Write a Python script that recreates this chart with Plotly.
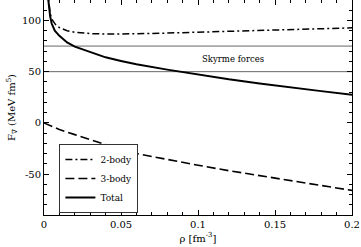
import plotly.graph_objects as go

# density rho [fm^-3]
rho_2b = [0.0022, 0.003, 0.004, 0.005, 0.0075, 0.01, 0.015, 0.02, 0.03, 0.04, 0.05,
          0.06, 0.08, 0.1, 0.12, 0.14, 0.16, 0.18, 0.2]
two_body = [130, 116, 107, 101.5, 96, 93, 90, 88.5, 87.2, 86.8, 86.8,
            87.0, 87.7, 88.6, 89.5, 90.3, 91.2, 92.0, 92.8]

rho_3b = [0.0, 0.005, 0.01, 0.02, 0.03, 0.04, 0.05, 0.06, 0.08, 0.1,
          0.12, 0.14, 0.16, 0.18, 0.2]
three_body = [0.0, -3.4, -6.5, -11.5, -16.5, -21.3, -26.0, -30.0, -36.0, -41.4,
              -46.7, -51.6, -56.4, -61.2, -66.0]

rho_tot = [0.0022, 0.003, 0.004, 0.005, 0.007, 0.01, 0.015, 0.02, 0.03, 0.04, 0.05,
           0.06, 0.08, 0.1, 0.12, 0.14, 0.16, 0.18, 0.2]
total = [128, 114, 104, 97, 90, 85, 78.5, 74.5, 69, 64, 60.5,
         57.3, 52, 47, 42.5, 38.5, 34.5, 31, 27.5]

skyrme_levels = [75, 50]
skyrme_label = "Skyrme forces"
skyrme_label_pos = (0.123, 62)

x_ticks = [0, 0.05, 0.1, 0.15, 0.2]
x_ticktext = ["0", "0.05", "0.1", "0.15", "0.2"]
y_ticks = [-50, 0, 50, 100]
y_ticktext = ["-50", "0", "50", "100"]

FONT = "DejaVu Serif"

fig = go.Figure()

for lvl in skyrme_levels:
    fig.add_trace(go.Scatter(x=[0, 0.2], y=[lvl, lvl], mode="lines",
                             line=dict(color="#666666", width=1),
                             showlegend=False, hoverinfo="skip"))

fig.add_trace(go.Scatter(x=rho_2b, y=two_body, mode="lines", name="2-body",
                         line=dict(color="black", width=1.5, dash="7px,3px,2px,3px")))
fig.add_trace(go.Scatter(x=rho_3b, y=three_body, mode="lines", name="3-body",
                         line=dict(color="black", width=1.6, dash="9px,4px")))
fig.add_trace(go.Scatter(x=rho_tot, y=total, mode="lines", name="Total",
                         line=dict(color="black", width=2)))

fig.add_annotation(x=skyrme_label_pos[0], y=skyrme_label_pos[1], text=skyrme_label,
                   showarrow=False, font=dict(family=FONT, size=8.5, color="black"))

fig.update_layout(
    width=361, height=247,
    margin=dict(l=44, r=9, t=0, b=32),
    paper_bgcolor="white", plot_bgcolor="white",
    font=dict(family=FONT, size=10, color="black"),
    legend=dict(x=0.05, y=0.33, xanchor="left", yanchor="top",
                bgcolor="white", bordercolor="#333333", borderwidth=1,
                font=dict(family=FONT, size=9), tracegroupgap=0,
                itemwidth=30),
    showlegend=True,
)

fig.update_xaxes(range=[0, 0.2], tickvals=x_ticks, ticktext=x_ticktext,
                 ticks="inside", ticklen=5, tickcolor="black",
                 showline=True, linecolor="black", linewidth=1, mirror="ticks",
                 showgrid=False, zeroline=False,
                 minor=dict(ticks="inside", dtick=0.01, ticklen=3, tickcolor="black", showgrid=False),
                 title=dict(text="ρ [fm<sup>-3</sup>]", standoff=5, font=dict(family=FONT, size=10)),
                 tickfont=dict(family=FONT, size=10))
fig.update_yaxes(range=[-90, 120], tickvals=y_ticks, ticktext=y_ticktext,
                 ticks="inside", ticklen=5, tickcolor="black",
                 showline=True, linecolor="black", linewidth=1, mirror="ticks",
                 showgrid=False, zeroline=False,
                 minor=dict(ticks="inside", dtick=10, ticklen=3, tickcolor="black", showgrid=False),
                 title=dict(text="F<sub>∇</sub> (MeV fm<sup>5</sup>)", standoff=4,
                            font=dict(family=FONT, size=10)),
                 tickfont=dict(family=FONT, size=10))

fig.write_html("out.html", config={"displayModeBar": False},
               post_script="document.body.style.margin='0';document.body.style.padding='0';")
